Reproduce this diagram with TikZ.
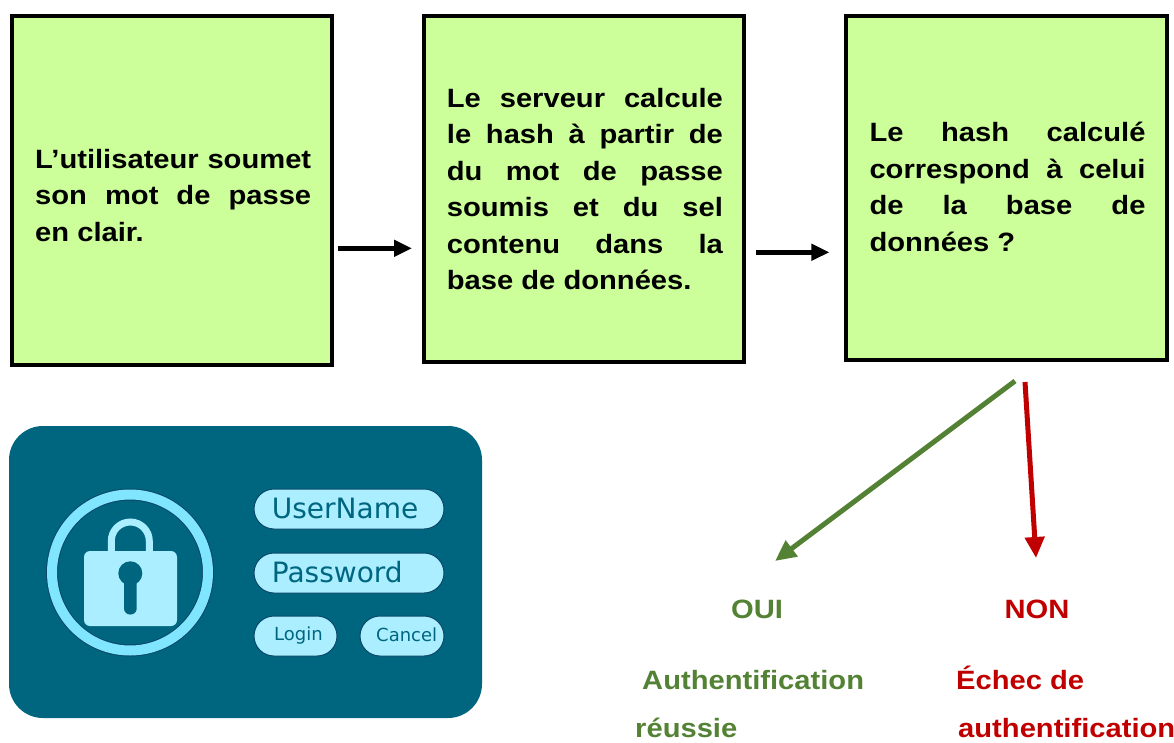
\documentclass[tikz,border=0pt]{standalone}
\usepackage{fontspec}
\setmainfont[FakeStretch=1.1]{Liberation Sans}
\newfontfamily\uifont{DejaVu Sans}
\usetikzlibrary{arrows.meta}

\definecolor{boxgreen}{RGB}{204,255,153}
\definecolor{okgreen}{RGB}{84,130,53}
\definecolor{nored}{RGB}{192,0,0}
\definecolor{panel}{RGB}{0,102,128}
\definecolor{ring}{RGB}{128,229,255}
\definecolor{pale}{RGB}{170,238,255}
\definecolor{edge}{RGB}{10,72,104}

\tikzset{
  stepbox/.style={draw=black, line width=4pt, fill=boxgreen, inner sep=0pt},
  boxtext/.style={text width=276pt, align=justify, inner sep=0pt, anchor=north west,
    font=\bfseries\fontsize{26.5}{36.5}\selectfont},
  flowarrow/.style={line width=4.5pt, -{Triangle[length=18pt,width=16pt]}},
  branch/.style={line width=5pt, -{Triangle[length=21pt,width=19pt]}},
  outcome/.style={inner sep=0pt, font=\bfseries\fontsize{26.5}{30}\selectfont},
  pill/.style={fill=pale, draw=edge, line width=1pt, rounded corners=20pt},
  uitext/.style={inner sep=0pt, anchor=base west, text=panel},
}

\begin{document}
\begin{tikzpicture}[x=1pt, y=-1pt]
\useasboundingbox (0,0) rectangle (1174,743);

% --- process boxes ---
\node[stepbox, minimum width=320pt, minimum height=349pt] (b1) at (172,190.5) {};
\node[stepbox, minimum width=320pt, minimum height=346pt] (b2) at (584,189) {};
\node[stepbox, minimum width=321pt, minimum height=344pt] (b3) at (1006.5,188) {};

\node[boxtext] (t1) at (35,142.75)
  {\strut L’utilisateur soumet\linebreak son mot de passe\linebreak en clair.};
\node[boxtext] (t2) at (446.7,81.75)
  {\strut Le serveur calcule\linebreak le hash à partir de\linebreak du mot de passe\linebreak
   soumis et du sel\linebreak contenu dans la\linebreak base de données.};
\node[boxtext] (t3) at (869.3,116.15)
  {\strut Le hash calculé\linebreak correspond à celui\linebreak de la base de\linebreak données ?};

% --- flow arrows ---
\draw[flowarrow] ([shift={(4,57.8)}]b1.east) -- ([shift={(-10,59.3)}]b2.west);
\draw[flowarrow] ([shift={(10.3,63.3)}]b2.east) -- ([shift={(-14.6,64.3)}]b3.west);

% --- outcomes ---
\node[outcome, text=okgreen, anchor=base] (oui) at (757,618) {OUI};
\node[outcome, text=nored, anchor=base] (non) at (1037,618) {NON};
\node[outcome, text=okgreen, anchor=base west] (ok1) at (642,689) {Authentification};
\node[outcome, text=okgreen, anchor=base west] (ok2) at (635,737) {réussie};
\node[outcome, text=nored, anchor=base west] (no1) at (956,689) {Échec de};
\node[outcome, text=nored, anchor=base west] (no2) at (958,737) {authentification};

\draw[branch, okgreen] ([shift={(8.5,19)}]b3.south) -- ([shift={(18,-57)}]oui.base);
\draw[branch, nored] ([shift={(18.5,20)}]b3.south) -- ([shift={(-1,-60)}]non.base);

% --- login panel ---
\fill[panel, rounded corners=34pt] (9,426) rectangle (482,718);

% ring around the padlock
\draw[edge, line width=12pt] (130,572.5) circle[radius=78];
\draw[ring, line width=10pt] (130,572.5) circle[radius=78];

% padlock
\draw[pale, line width=7pt] (111.3,553) -- (111.3,541) arc[start angle=180, end angle=360, radius=19] -- (149.3,553);
\fill[pale, rounded corners=6pt] (84,551) rectangle (177,626);
\fill[panel] (130.3,573.3) circle[radius=12];
\fill[panel, rounded corners=6pt] (124,575) rectangle (136.7,614.5);

% form fields and buttons
\draw[pill] (254,489) rectangle (444,529);
\draw[pill] (254,553) rectangle (444,593);
\draw[pill] (254,616) rectangle (337,656);
\draw[pill] (360,616) rectangle (444,656);

\node[uitext, font=\uifont\fontsize{28}{32}\selectfont] (user) at (271.7,518) {UserName};
\node[uitext, font=\uifont\fontsize{28}{32}\selectfont] (pass) at (271.7,582.3) {Password};
\node[uitext, font=\uifont\fontsize{18}{22}\selectfont] (login) at (274,640) {Login};
\node[uitext, font=\uifont\fontsize{18}{22}\selectfont] (cancel) at (376,641.7) {Cancel};

\end{tikzpicture}
\end{document}
